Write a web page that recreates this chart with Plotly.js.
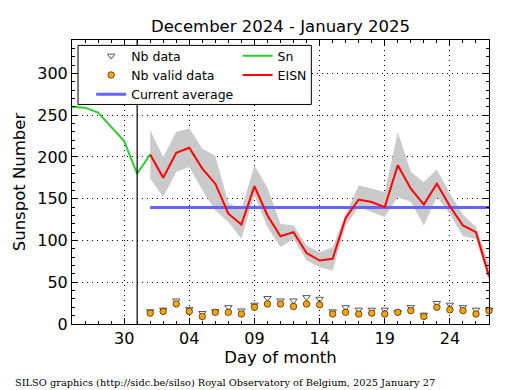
<!DOCTYPE html>
<html>
<head>
<meta charset="utf-8">
<script src="https://cdn.plot.ly/plotly-3.0.1.min.js"></script>
<style>
html, body { margin: 0; padding: 0; background: #ffffff; }
#chart { width: 515px; height: 390px; }
</style>
</head>
<body>
<div id="chart"></div>
<script>
// ---- Data ----
const snDates = ['2024-12-26','2024-12-27','2024-12-28','2024-12-29','2024-12-30','2024-12-31','2025-01-01'];
const snValues = [260, 259, 253, 236, 219, 180, 203];

const eisnDates = ['2025-01-01','2025-01-02','2025-01-03','2025-01-04','2025-01-05','2025-01-06','2025-01-07',
  '2025-01-08','2025-01-09','2025-01-10','2025-01-11','2025-01-12','2025-01-13','2025-01-14','2025-01-15',
  '2025-01-16','2025-01-17','2025-01-18','2025-01-19','2025-01-20','2025-01-21','2025-01-22','2025-01-23',
  '2025-01-24','2025-01-25','2025-01-26','2025-01-27'];
const eisnValues = [203, 175, 205, 211, 186, 168, 132, 119, 165, 130, 105, 110, 85, 76, 78, 127, 149, 146, 140, 190, 162, 143, 168, 141, 118, 110, 57];
const eisnUpper  = [232, 200, 230, 234, 210, 201, 145, 137, 190, 163, 120, 118, 94, 86, 92, 131, 166, 162, 158, 230, 182, 170, 185, 156, 131, 116, 72];
const eisnLower  = [174, 152, 182, 188, 160, 136, 122, 102, 154, 116, 92, 102, 76, 68, 64, 118, 140, 134, 128, 152, 146, 118, 152, 132, 105, 102, 52];

const nbData      = [15, 17, 28, 18, 13, 15, 20, 16, 23, 31, 28, 28, 32, 30, 15, 20, 17, 17, 17, 14, 20, 11, 25, 23, 20, 17, 17];
const nbValidData = [13, 15, 24, 15, 9, 14, 14, 12, 20, 24, 24, 21, 24, 23, 12, 14, 12, 13, 12, 14, 16, 9, 20, 17, 16, 12, 16];

const avgDates = ['2025-01-01', '2025-01-27'];
const avgValues = [139.5, 139.5];

const monthMarker = '2024-12-31';
const xRange = ['2024-12-26', '2025-01-27'];
const xTickVals = ['2024-12-30','2025-01-04','2025-01-09','2025-01-14','2025-01-19','2025-01-24'];
const yTickVals = [0, 50, 100, 150, 200, 250, 300];
const yRange = [0, 340];

const titleText = 'December 2024 - January 2025';
const footerText = 'SILSO graphics (http://sidc.be/silso) Royal Observatory of Belgium, 2025 January 27';

// ---- Traces ----
const FONT = 'DejaVu Sans, sans-serif';

const traces = [
  { x: eisnDates, y: eisnLower, type: 'scatter', mode: 'lines', line: {width: 0, color: 'rgba(0,0,0,0)'},
    showlegend: false, hoverinfo: 'skip' },
  { x: eisnDates, y: eisnUpper, type: 'scatter', mode: 'lines', fill: 'tonexty', fillcolor: '#cacaca',
    line: {width: 0, color: 'rgba(0,0,0,0)'}, showlegend: false, hoverinfo: 'skip' },
  { x: eisnDates, y: nbData, type: 'scatter', mode: 'markers', name: 'Nb data', legend: 'legend',
    marker: {symbol: 'triangle-down-open', size: 6.5, color: '#555555', line: {width: 1, color: '#555555'}},
    cliponaxis: false },
  { x: eisnDates, y: nbValidData, type: 'scatter', mode: 'markers', name: 'Nb valid data', legend: 'legend',
    marker: {symbol: 'circle', size: 6.5, color: '#ffa500', line: {width: 0.6, color: '#000000'}},
    cliponaxis: false },
  { x: avgDates, y: avgValues, type: 'scatter', mode: 'lines', name: 'Current average', legend: 'legend',
    line: {color: '#6464ff', width: 3} },
  { x: snDates, y: snValues, type: 'scatter', mode: 'lines', name: 'Sn', legend: 'legend2',
    line: {color: '#2ecc2e', width: 2} },
  { x: eisnDates, y: eisnValues, type: 'scatter', mode: 'lines', name: 'EISN', legend: 'legend2',
    line: {color: '#ff0000', width: 2} }
];

// ---- Layout ----
const layout = {
  width: 515, height: 390,
  margin: {l: 72, r: 26, t: 40, b: 66, pad: 0},
  paper_bgcolor: '#ffffff', plot_bgcolor: '#ffffff',
  font: {family: FONT, color: '#000000', size: 16},
  title: {text: titleText, font: {family: FONT, size: 16.5, color: '#000'},
          x: 0.5, xref: 'paper', xanchor: 'center', y: 1 - 26/390, yref: 'container', yanchor: 'middle'},
  xaxis: {
    type: 'date', range: xRange, tickvals: xTickVals, tickformat: '%d',
    ticks: 'inside', ticklen: 6, tickwidth: 1, tickcolor: '#000',
    showline: true, linecolor: '#000', linewidth: 1, mirror: 'allticks',
    showgrid: true, gridcolor: '#000', gridwidth: 1, griddash: '1px,4px',
    zeroline: false, tickfont: {size: 16, family: FONT},
    minor: {ticks: 'inside', ticklen: 3, dtick: 86400000, tick0: '2024-12-26', tickcolor: '#000', showgrid: false},
    title: {text: 'Day of month', font: {size: 16.5, family: FONT}, standoff: 4}
  },
  yaxis: {
    range: yRange, tickvals: yTickVals,
    ticks: 'inside', ticklen: 6, tickwidth: 1, tickcolor: '#000',
    showline: true, linecolor: '#000', linewidth: 1, mirror: 'allticks',
    showgrid: true, gridcolor: '#000', gridwidth: 1, griddash: '1px,4px',
    zeroline: false, tickfont: {size: 16, family: FONT},
    minor: {ticks: 'inside', ticklen: 3, dtick: 10, tickcolor: '#000', showgrid: false},
    title: {text: 'Sunspot Number', font: {size: 16.5, family: FONT}, standoff: 7}
  },
  legend: {x: 0.046, xanchor: 'left', y: 0.996, yanchor: 'top', bgcolor: 'rgba(0,0,0,0)', borderwidth: 0,
           font: {size: 12.5, family: FONT}, tracegroupgap: 0, traceorder: 'normal'},
  legend2: {x: 0.397, xanchor: 'left', y: 0.996, yanchor: 'top', bgcolor: 'rgba(0,0,0,0)', borderwidth: 0,
           font: {size: 12.5, family: FONT}, tracegroupgap: 0, traceorder: 'normal'},
  shapes: [
    {type: 'line', xref: 'x', yref: 'paper', x0: monthMarker, x1: monthMarker, y0: 0, y1: 1,
     line: {color: '#000', width: 1.2}, layer: 'above'},
    {type: 'rect', xref: 'paper', yref: 'paper', x0: 0.0144, x1: 0.574, y0: 0.773, y1: 0.981,
     fillcolor: '#ffffff', line: {color: '#000', width: 1}, layer: 'above'}
  ],
  annotations: [
    {text: footerText, xref: 'paper', yref: 'paper', x: (13 - 72) / 417, y: (323.5 - 382) / 284,
     xanchor: 'left', yanchor: 'middle', showarrow: false,
     font: {family: 'DejaVu Serif, serif', size: 9.8, color: '#000'}}
  ],
  showlegend: true
};

Plotly.newPlot('chart', traces, layout, {staticPlot: true, displayModeBar: false});
</script>
</body>
</html>
